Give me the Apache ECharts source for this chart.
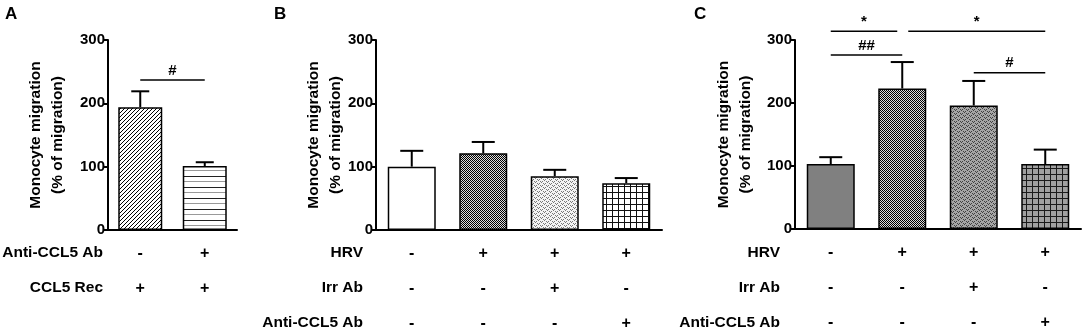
<!DOCTYPE html>
<html>
<head>
<meta charset="utf-8">
<script src="https://cdn.jsdelivr.net/npm/echarts@6/dist/echarts.min.js"></script>
<style>
  html, body { margin: 0; padding: 0; background: #fff; }
  #chart { width: 1084px; height: 331px; }
</style>
</head>
<body>
<div id="chart"></div>
<script>
// ---- data ----
const yTicks = [0, 100, 200, 300]

const aGroups = ['a1', 'a2']
const aMeans = [194, 101]
const aSem = [25, 6]
const aRows = ['Anti-CCL5 Ab', 'CCL5 Rec']
const aSigns = [['-', '+'], ['+', '+']]
const aSig = [[0, 1, 237]]
const aSigText = ['#']

const bGroups = ['b1', 'b2', 'b3', 'b4']
const bMeans = [100, 121, 85, 74]
const bSem = [25, 18, 10, 8]
const bRows = ['HRV', 'Irr Ab', 'Anti-CCL5 Ab']
const bSigns = [['-', '+', '+', '+'], ['-', '-', '+', '-'], ['-', '-', '-', '+']]

const cGroups = ['c1', 'c2', 'c3', 'c4']
const cMeans = [103, 223, 196, 103]
const cSem = [11, 42, 39, 23]
const cRows = ['HRV', 'Irr Ab', 'Anti-CCL5 Ab']
const cSigns = [['-', '+', '+', '+'], ['-', '-', '+', '-'], ['-', '-', '-', '+']]
const cSig = [[0, 1, 314], [1, 3, 314], [0, 1, 276], [2, 3, 248]]
const cSigText = ['*', '*', '##', '#']

const FONT = "'Liberation Sans', Arial, sans-serif"

// ---- fill patterns ----
function tile(w, h, draw) {
  const c = document.createElement('canvas')
  c.width = w
  c.height = h
  const ctx = c.getContext('2d')
  draw(ctx)
  return { image: c, repeat: 'repeat' }
}
function px(ctx, col, pts) {
  ctx.fillStyle = col
  pts.forEach(([x, y]) => ctx.fillRect(x, y, 1, 1))
}

const diag = tile(4, 4, (ctx) => {
  ctx.fillStyle = '#fff'
  ctx.fillRect(0, 0, 4, 4)
  px(ctx, '#000', [[0, 0], [3, 1], [2, 2], [1, 3]])
})
const hLines = tile(4, 11, (ctx) => {
  ctx.fillStyle = '#fff'
  ctx.fillRect(0, 0, 4, 11)
  ctx.fillStyle = '#222'
  ctx.fillRect(0, 0, 4, 1)
  ctx.fillStyle = '#999'
  ctx.fillRect(0, 5, 4, 1)
})
const checker = tile(2, 2, (ctx) => {
  ctx.fillStyle = '#ddd'
  ctx.fillRect(0, 0, 2, 2)
  px(ctx, '#000', [[0, 0], [1, 1]])
})
const waveLight = tile(6, 4, (ctx) => {
  ctx.fillStyle = '#f4f4f4'
  ctx.fillRect(0, 0, 6, 4)
  px(ctx, '#777', [[0, 1], [1, 2], [2, 1], [3, 3], [4, 0], [5, 3]])
})
const waveGray = tile(6, 4, (ctx) => {
  ctx.fillStyle = '#a6a6a6'
  ctx.fillRect(0, 0, 6, 4)
  px(ctx, '#404040', [[0, 1], [1, 2], [2, 1], [3, 3], [4, 0], [5, 3]])
})
const grid = tile(6, 6, (ctx) => {
  ctx.fillStyle = '#fff'
  ctx.fillRect(0, 0, 6, 6)
  ctx.fillStyle = '#111'
  ctx.fillRect(0, 0, 6, 1)
  ctx.fillRect(0, 0, 1, 6)
})
const gridGray = tile(6, 6, (ctx) => {
  ctx.fillStyle = '#a0a0a0'
  ctx.fillRect(0, 0, 6, 6)
  ctx.fillStyle = '#1a1a1a'
  ctx.fillRect(0, 0, 6, 1)
  ctx.fillRect(0, 0, 1, 6)
})

const aFills = [diag, hLines]
const bFills = ['#fff', checker, waveLight, grid]
const cFills = ['#808080', checker, waveGray, gridGray]

// ---- helpers ----
function yAxisFor(gi, gap) {
  return {
    gridIndex: gi,
    type: 'value',
    min: yTicks[0],
    max: yTicks[yTicks.length - 1],
    interval: 100,
    name: 'Monocyte migration\n(% of migration)',
    nameLocation: 'middle',
    nameRotate: 90,
    nameGap: gap,
    nameMoveOverlap: false,
    nameTextStyle: { fontFamily: FONT, fontWeight: 'bold', fontSize: 15.5, color: '#000', lineHeight: 22 },
    axisLine: { show: true, lineStyle: { color: '#000', width: 2 } },
    axisTick: { show: true, length: 5, lineStyle: { color: '#000', width: 2 } },
    axisLabel: { fontFamily: FONT, fontWeight: 'bold', fontSize: 15, color: '#000', margin: 3 },
    splitLine: { show: false },
  }
}

function xAxisFor(gi, groups, signs) {
  return {
    gridIndex: gi,
    type: 'category',
    data: groups,
    axisLine: { show: true, lineStyle: { color: '#000', width: 2 } },
    axisTick: { show: false },
    axisLabel: {
      fontFamily: FONT,
      fontWeight: 'bold',
      fontSize: 16,
      color: '#000',
      lineHeight: 35,
      margin: 6,
      formatter: (v, i) => signs.map((r) => r[i]).join('\n'),
    },
  }
}

function barSeries(gi, means, fills, width) {
  return {
    type: 'bar',
    xAxisIndex: gi,
    yAxisIndex: gi,
    barWidth: width,
    data: means.map((v, i) => ({
      value: v,
      itemStyle: { color: fills[i], borderColor: '#000', borderWidth: 1.5 },
    })),
    z: 2,
  }
}

function errSeries(gi, means, sem, cap) {
  return {
    type: 'custom',
    xAxisIndex: gi,
    yAxisIndex: gi,
    data: means.map((v, i) => [i, v, v + sem[i]]),
    z: 1,
    renderItem: (params, api) => {
      const base = api.coord([api.value(0), api.value(1)])
      const top = api.coord([api.value(0), api.value(2)])
      const st = { stroke: '#000', lineWidth: 2 }
      return {
        type: 'group',
        children: [
          { type: 'line', shape: { x1: base[0], y1: base[1], x2: top[0], y2: top[1] }, style: st },
          { type: 'line', shape: { x1: top[0] - cap / 2, y1: top[1], x2: top[0] + cap / 2, y2: top[1] }, style: st },
        ],
      }
    },
  }
}

function sigSeries(gi, sig, texts) {
  return {
    type: 'custom',
    xAxisIndex: gi,
    yAxisIndex: gi,
    data: sig,
    clip: false,
    z: 3,
    renderItem: (params, api) => {
      const i = params.dataIndex
      const [from, to, y] = sig[i]
      let p1 = api.coord([from, y])
      let p2 = api.coord([to, y])
      let x1 = p1[0]
      let x2 = p2[0]
      // brackets sharing an end at the same height leave a small gap
      sig.forEach((o, j) => {
        if (j === i || o[2] !== y) return
        if (o[0] === to) x2 -= 5
        if (o[1] === from) x1 += 6
      })
      return {
        type: 'group',
        children: [
          { type: 'line', shape: { x1, y1: p1[1], x2, y2: p1[1] }, style: { stroke: '#000', lineWidth: 1.5 } },
          {
            type: 'text',
            style: {
              text: texts[i],
              x: (x1 + x2) / 2,
              y: p1[1] - 2,
              align: 'center',
              textAlign: 'center',
              verticalAlign: 'bottom',
              textVerticalAlign: 'bottom',
              font: 'bold 15px ' + FONT,
              fill: '#000',
            },
          },
        ],
      }
    },
  }
}

function rowHeaders(right, rows) {
  return rows.map((t, k) => ({
    type: 'text',
    style: {
      text: t,
      x: right,
      y: 253 + k * 35,
      align: 'right',
      textAlign: 'right',
      verticalAlign: 'middle',
      textVerticalAlign: 'middle',
      font: 'bold 15.5px ' + FONT,
      fill: '#000',
    },
  }))
}

function letter(x, t) {
  return {
    type: 'text',
    style: { text: t, x, y: 6, font: 'bold 17px ' + FONT, fill: '#000' },
  }
}

const chart = echarts.init(document.getElementById('chart'))

chart.setOption({
  animation: false,
  backgroundColor: '#fff',
  grid: [
    { left: 108, width: 129, top: 40, height: 190, outerBoundsMode: 'none' },
    { left: 376, width: 286, top: 40, height: 190, outerBoundsMode: 'none' },
    { left: 795, width: 286, top: 40, height: 189, outerBoundsMode: 'none' },
  ],
  xAxis: [xAxisFor(0, aGroups, aSigns), xAxisFor(1, bGroups, bSigns), xAxisFor(2, cGroups, cSigns)],
  yAxis: [yAxisFor(0, 39), yAxisFor(1, 29), yAxisFor(2, 38)],
  series: [
    barSeries(0, aMeans, aFills, 44),
    errSeries(0, aMeans, aSem, 18),
    sigSeries(0, aSig, aSigText),
    barSeries(1, bMeans, bFills, 48),
    errSeries(1, bMeans, bSem, 23),
    barSeries(2, cMeans, cFills, 48),
    errSeries(2, cMeans, cSem, 23),
    sigSeries(2, cSig, cSigText),
  ],
  graphic: [
    letter(5, 'A'),
    letter(274, 'B'),
    letter(694, 'C'),
    ...rowHeaders(103, aRows),
    ...rowHeaders(363, bRows),
    ...rowHeaders(780, cRows),
  ],
})
</script>
</body>
</html>
